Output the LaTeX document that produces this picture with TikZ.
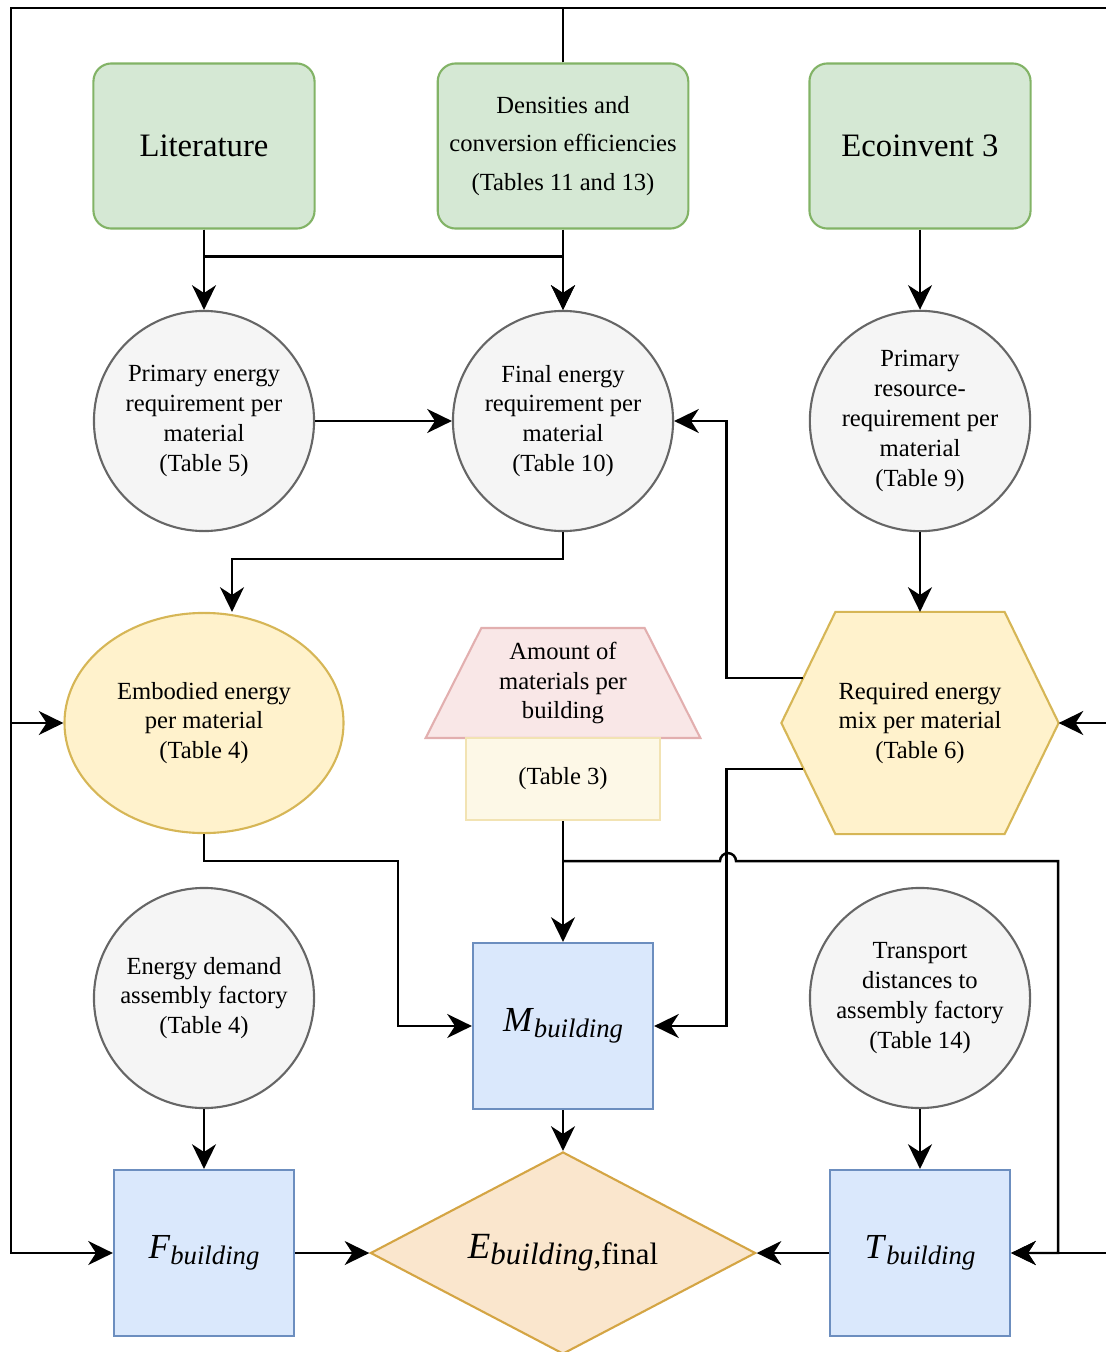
\documentclass[tikz,border=0pt]{standalone}
\usepackage{fontspec}
\setmainfont{Liberation Serif}
\usetikzlibrary{shapes.geometric,arrows.meta,backgrounds,positioning}
\definecolor{greenfill}{HTML}{D5E8D4}
\definecolor{greenline}{HTML}{82B366}
\definecolor{grayfill}{HTML}{F5F5F5}
\definecolor{grayline}{HTML}{666666}
\definecolor{yelfill}{HTML}{FFF2CC}
\definecolor{yelline}{HTML}{D6B656}
\definecolor{bluefill}{HTML}{DAE8FC}
\definecolor{blueline}{HTML}{6C8EBF}
\definecolor{orfill}{HTML}{FAE6CD}
\definecolor{orline}{HTML}{D4A544}
\definecolor{pinkfill}{HTML}{F9E7E7}
\definecolor{pinkline}{HTML}{E2AFAF}
\definecolor{palefill}{HTML}{FDF8E7}
\definecolor{paleline}{HTML}{F2E3B3}
\newcommand{\qsym}[2]{\textit{#1}\raisebox{-1.8pt}{\fontsize{7.6}{8}\selectfont #2}}
\begin{document}
\begin{tikzpicture}[x=0.01cm, y=-0.01cm, >={Stealth[length=7pt,width=6.8pt,inset=2.2pt]},
    every node/.style={font=\fontsize{7}{8.5}\selectfont, align=center, line width=0.6pt},
    src/.style={draw=greenline, fill=greenfill, rounded corners=0.18cm, minimum width=2.21cm, minimum height=1.65cm},
    data/.style={circle, draw=grayline, fill=grayfill, minimum size=2.2cm, inner sep=1pt},
    calc/.style={draw=blueline, fill=bluefill, minimum width=1.8cm, minimum height=1.66cm, font=\fontsize{10}{12}\selectfont},
    link/.style={line width=0.7pt, ->}]
  \useasboundingbox (0,0) rectangle (1105,1352);
  \node[src, font=\fontsize{9.3}{11}\selectfont] (lit) at (204,146) {Literature};
  \node[src, minimum width=2.48cm, font=\fontsize{7}{11}\selectfont] (dens) at (563,146) {Densities and\\conversion efficiencies\\(Tables 11 and 13)};
  \node[src, font=\fontsize{9.3}{11}\selectfont] (eco) at (920,146) {Ecoinvent 3};
  \node[data] (pe) at (204,421) {Primary energy\\requirement per\\material\\(Table 5)};
  \node[data] (fe) at (563,421) {Final energy\\requirement per\\material\\(Table 10)};
  \node[data] (pr) at (920,421) {Primary\\resource-\\requirement per\\material\\(Table 9)};
  \node[ellipse, draw=yelline, fill=yelfill, minimum width=2.76cm, minimum height=2.2cm] (emb) at (204,723) {Embodied energy\\per material\\(Table 4)};
  \node[trapezium, trapezium left angle=64, trapezium right angle=64, trapezium stretches=true, draw=pinkline, fill=pinkfill, minimum width=2.75cm, minimum height=1.1cm] (amt) at (563,683) {Amount of\\materials per\\building};
  \node[draw=paleline, fill=palefill, minimum width=1.94cm, minimum height=0.82cm] (tab) at (563,779) {(Table 3)};
  \node[minimum width=2.75cm, minimum height=2.2cm] (mix) at (920,723) {Required energy\\mix per material\\(Table 6)};
  \node[calc] (m) at (563,1026) {\qsym{M}{\textit{building}}};
  \node[data] (ed) at (204,998) {Energy demand\\assembly factory\\(Table 4)};
  \node[data] (tr) at (920,998) {Transport\\distances to\\assembly factory\\(Table 14)};
  \node[calc] (f) at (204,1253) {\qsym{F}{\textit{building}}};
  \node[calc] (t) at (920,1253) {\qsym{T}{\textit{building}}};
  \node[diamond, aspect=1.9, draw=orline, fill=orfill, minimum width=3.85cm, minimum height=2.02cm, inner sep=0pt, font=\fontsize{10.5}{12}\selectfont] (eb) at (563,1253) {\textit{E}\raisebox{-1.8pt}{\fontsize{8.8}{9}\selectfont\textit{building},final}};
  \begin{scope}[on background layer]
    \draw[draw=yelline, fill=yelfill, line width=0.6pt] (mix.west) -- ([xshift=0.54cm]mix.north west) -- ([xshift=-0.54cm]mix.north east) -- (mix.east) -- ([xshift=-0.54cm]mix.south east) -- ([xshift=0.54cm]mix.south west) -- cycle;
  \end{scope}
  \coordinate (tl) at (11,8);
  \coordinate (tr0) at (1108,8);
  \draw[link] (lit) -- (pe);
  \draw[link] (dens) -- (fe);
  \draw[link] (lit.south) -- ++(0,27) -| (fe.north);
  \draw[link] (pe) -- (fe);
  \draw[link] (fe.south) -- ++(0,27) -| ([xshift=0.28cm]emb.north);
  \draw[link] (eco) -- (pr);
  \draw[link] (pr) -- (mix);
  \draw[link] ([xshift=0.22cm,yshift=0.45cm]mix.west) -- ++(-77,0) |- (fe.east);
  \draw[link] ([xshift=0.22cm,yshift=-0.46cm]mix.west) -- ++(-77,0) |- (m.east);
  \draw[link] (tab) -- (m);
  \draw[link] ([yshift=-0.4cm]tab.south) -- ++(157,0) arc[start angle=180, end angle=0, radius=0.08cm] -- ++(322,0) |- (t.east);
  \draw[link] (emb.south) -- ++(0,27) -- ++(194,0) |- (m.west);
  \draw[link] (ed) -- (f);
  \draw[link] (tr) -- (t);
  \draw[link] (m) -- (eb);
  \draw[link] (f) -- (eb);
  \draw[link] (t) -- (eb);
  \draw[link] (dens.north) |- (tl) |- (f.west);
  \draw[link] (tl) |- (emb.west);
  \draw[link] (dens.north) |- (tr0) |- (mix.east);
  \draw[link] (tr0) |- (t.east);
\end{tikzpicture}
\end{document}
